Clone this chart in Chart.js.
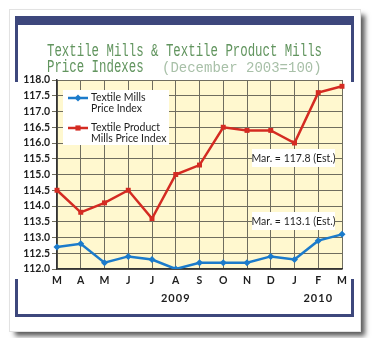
<!DOCTYPE html>
<html>
<head>
<meta charset="utf-8">
<title>Textile Mills & Textile Product Mills Price Indexes</title>
<script src="https://cdn.jsdelivr.net/npm/chart.js@4.4.1/dist/chart.umd.min.js"></script>
<style>
  html, body { margin: 0; padding: 0; background: #ffffff; }
  canvas { display: block; }
</style>
</head>
<body>
<canvas id="price-chart" width="372" height="338"></canvas>
<script>
// monthly index values, March 2009 .. March 2010
const months = ['M', 'A', 'M', 'J', 'J', 'A', 'S', 'O', 'N', 'D', 'J', 'F', 'M'];
const textileMills = [112.7, 112.8, 112.2, 112.4, 112.3, 112.0, 112.2, 112.2, 112.2, 112.4, 112.3, 112.9, 113.1];
const textileProductMills = [114.5, 113.8, 114.1, 114.5, 113.6, 115.0, 115.3, 116.5, 116.4, 116.4, 116.0, 117.6, 117.8];

// year captions under the month axis, placed at a month index
const years = ['2009', '2010'];
const yearAt = [5, 11];

const yMin = 112.0;
const yMax = 118.0;
const yStep = 0.5;

const seriesNames = [['Textile Mills', 'Price Index'], ['Textile Product', 'Mills Price Index']];

const NAVY = '#3d477c';
const BLUE = '#1b7bcb';
const RED = '#d42b22';
const GRID = '#6f6d5e';
const TEXT = '#1e1e1e';

function marker(ctx, style, x, y, r, color) {
    ctx.fillStyle = color;
    ctx.beginPath();
    if (style === 'rect') {
        ctx.rect(x - r, y - r, r * 2, r * 2);
    } else {
        ctx.moveTo(x, y - r - 1);
        ctx.lineTo(x + r + 1, y);
        ctx.lineTo(x, y + r + 1);
        ctx.lineTo(x - r - 1, y);
        ctx.closePath();
    }
    ctx.fill();
}

function whiteBox(ctx, x, y, w, h) {
    ctx.fillStyle = '#ffffff';
    ctx.fillRect(x, y, w, h);
}

// card, frame and title behind the plot
const framePlugin = {
    id: 'frame',
    beforeDraw(chart) {
        const ctx = chart.ctx;
        const area = chart.chartArea;
        ctx.save();

        // card with drop shadow
        ctx.shadowColor = 'rgba(0,0,0,0.65)';
        ctx.shadowBlur = 5;
        ctx.shadowOffsetX = 5;
        ctx.shadowOffsetY = 5;
        ctx.fillStyle = '#ffffff';
        ctx.fillRect(10, 10, 350, 321);
        ctx.shadowColor = 'transparent';
        ctx.strokeStyle = '#e2e2e2';
        ctx.lineWidth = 1;
        ctx.strokeRect(9.5, 9.5, 351, 322);

        // navy frame, thick on top
        ctx.fillStyle = NAVY;
        ctx.fillRect(15, 16, 339, 9);
        ctx.fillRect(15, 16, 3, 301);
        ctx.fillRect(351, 16, 3, 301);
        ctx.fillRect(15, 314, 339, 3);

        // white band carrying the plot interrupts the frame sides
        ctx.fillStyle = '#ffffff';
        ctx.fillRect(11, 82, 348, 197);

        // title
        ctx.fillStyle = '#62955f';
        ctx.font = '18px "Liberation Mono"';
        ctx.textBaseline = 'alphabetic';
        const line1 = 'Textile Mills & Textile Product Mills';
        const sx = 275 / ctx.measureText(line1).width;
        ctx.save();
        ctx.translate(47, 55.5);
        ctx.scale(sx, 1);
        ctx.textAlign = 'left';
        ctx.fillText(line1, 0, 0);
        ctx.restore();

        ctx.save();
        ctx.translate(47, 71.5);
        ctx.scale(sx, 1);
        ctx.fillText('Price Indexes', 0, 0);
        ctx.restore();

        ctx.fillStyle = '#a8c0a8';
        ctx.font = '14px "Liberation Mono"';
        ctx.fillText('(December 2003=100)', 162, 71.5);

        // plot background
        ctx.fillStyle = '#fff8cf';
        ctx.fillRect(area.left, area.top, area.right - area.left, area.bottom - area.top);
        ctx.restore();
    },
    beforeDatasetsDraw(chart) {
        const ctx = chart.ctx;
        ctx.save();

        // legend
        whiteBox(ctx, 63, 90, 106, 55);
        const colors = [BLUE, RED];
        const styles = ['rectRot', 'rect'];
        const rows = [98, 128];
        ctx.font = '10.5px Lato';
        ctx.textAlign = 'left';
        ctx.textBaseline = 'middle';
        for (let i = 0; i < 2; i++) {
            ctx.strokeStyle = colors[i];
            ctx.lineWidth = 2.5;
            ctx.beginPath();
            ctx.moveTo(68, rows[i]);
            ctx.lineTo(88, rows[i]);
            ctx.stroke();
            marker(ctx, styles[i], 78, rows[i], i === 0 ? 2.5 : 2.6, colors[i]);
            ctx.fillStyle = TEXT;
            ctx.fillText(seriesNames[i][0], 91, rows[i]);
            ctx.fillText(seriesNames[i][1], 91, rows[i] + 11);
        }

        // estimate callouts for the last month
        const last = months.length - 1;
        const notes = [textileProductMills[last], textileMills[last]];
        const boxTop = [149, 212];
        ctx.font = '10.5px Lato';
        ctx.textAlign = 'center';
        for (let i = 0; i < 2; i++) {
            whiteBox(ctx, 252, boxTop[i], 83, 18);
            ctx.fillStyle = TEXT;
            ctx.fillText('Mar. = ' + notes[i].toFixed(1) + ' (Est.)', 293.5, boxTop[i] + 9.5);
        }
        ctx.restore();
    },
    afterDraw(chart) {
        const ctx = chart.ctx;
        const xScale = chart.scales.x;
        ctx.save();
        ctx.fillStyle = TEXT;
        ctx.font = 'bold 11px Lato';
        ctx.letterSpacing = '1px';
        ctx.textAlign = 'center';
        ctx.textBaseline = 'middle';
        years.forEach((y, i) => {
            ctx.fillText(y, xScale.getPixelForValue(yearAt[i]), 298);
        });
        ctx.restore();
    }
};

document.addEventListener('DOMContentLoaded', () => {
    const ctx = document.getElementById('price-chart').getContext('2d');

    new Chart(ctx, {
        type: 'line',
        data: {
            labels: months,
            datasets: [{
                label: seriesNames[0].join(' '),
                data: textileMills,
                borderColor: BLUE,
                backgroundColor: BLUE,
                borderWidth: 2.5,
                pointStyle: 'rectRot',
                pointRadius: 3.5,
                pointBorderWidth: 0,
                tension: 0,
                fill: false
            }, {
                label: seriesNames[1].join(' '),
                data: textileProductMills,
                borderColor: RED,
                backgroundColor: RED,
                borderWidth: 2.5,
                pointStyle: 'rect',
                pointRadius: 3.5,
                pointBorderWidth: 0,
                tension: 0,
                fill: false
            }]
        },
        options: {
            responsive: false,
            animation: false,
            layout: {
                padding: { left: 0, right: 30, top: 80, bottom: 49 }
            },
            plugins: {
                legend: { display: false },
                tooltip: { enabled: false },
                title: { display: false }
            },
            scales: {
                x: {
                    offset: false,
                    grid: { color: GRID, lineWidth: 1, drawTicks: false },
                    border: { color: '#333333', width: 1.5 },
                    ticks: {
                        color: TEXT,
                        font: { family: 'Lato', weight: 'bold', size: 10.5 },
                        padding: 5,
                        maxRotation: 0,
                        autoSkip: false
                    },
                    afterFit(scale) { scale.height = 20; }
                },
                y: {
                    min: yMin,
                    max: yMax,
                    grid: { color: GRID, lineWidth: 1, tickLength: 5 },
                    border: { color: '#333333', width: 1.5 },
                    ticks: {
                        stepSize: yStep,
                        color: TEXT,
                        font: { family: 'Lato', weight: 'bold', size: 10.5 },
                        padding: 2,
                        callback: (v) => Number(v).toFixed(1)
                    },
                    afterFit(scale) { scale.width = 57; }
                }
            }
        },
        plugins: [framePlugin]
    });
});
</script>
</body>
</html>
